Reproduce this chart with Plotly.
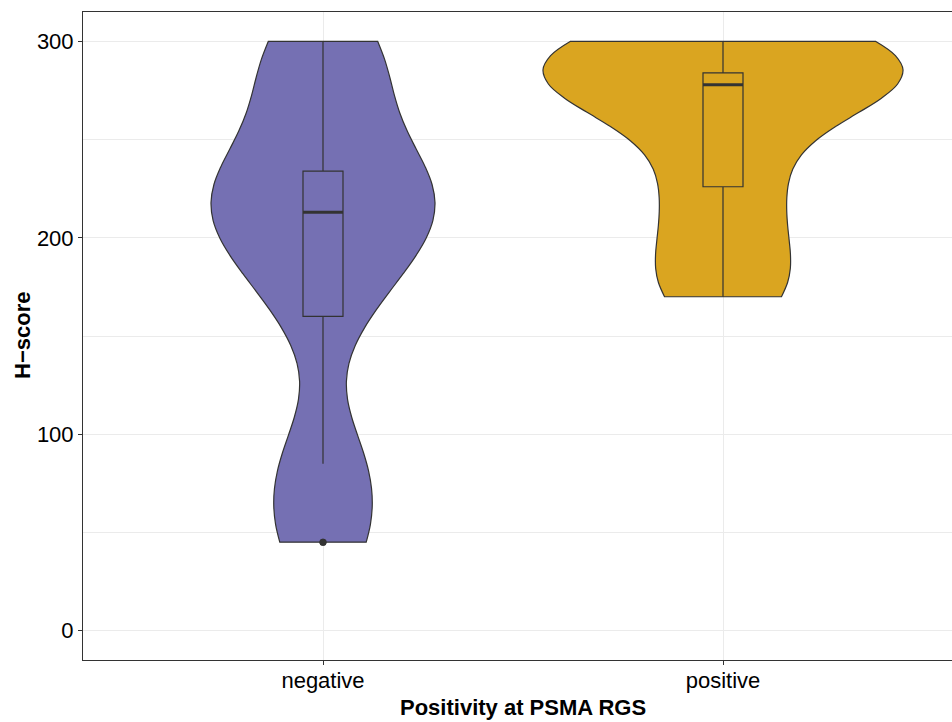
import numpy as np
import plotly.graph_objects as go

# H-scores per PSMA RGS result
groups = ["negative", "positive"]
hscore_negative = [45, 45, 85, 85, 160, 180, 192, 203, 213, 220, 226, 232, 234, 265, 282, 300, 300]
hscore_positive = [170, 172, 186, 204, 226, 232, 262, 272, 278, 280, 282, 283, 284, 298, 300, 300, 300]
y_major = [0, 100, 200, 300]
y_minor = [50, 150, 250]

fill_colors = ["#7570B3", "#DAA520"]
violin_widths = [0.56, 0.9]
edge = "#333333"
font_family = "Liberation Sans, Arial, Helvetica, sans-serif"


def bw_nrd0(values):
    v = np.asarray(values, dtype=float)
    q75, q25 = np.percentile(v, [75, 25])
    return 0.9 * min(v.std(ddof=1), (q75 - q25) / 1.34) * len(v) ** -0.2


fig = go.Figure()
samples = [hscore_negative, hscore_positive]

for i, (vals, col, w) in enumerate(zip(samples, fill_colors, violin_widths)):
    fig.add_trace(go.Violin(
        y=vals, x0=i, width=w, spanmode="hard", bandwidth=bw_nrd0(vals),
        scalemode="width", scalegroup=groups[i], side="both",
        fillcolor=col, line=dict(color=edge, width=1.2), opacity=1,
        points=False, box_visible=False, meanline_visible=False,
        hoverinfo="skip", name=groups[i],
    ))

for i, (vals, col) in enumerate(zip(samples, fill_colors)):
    fig.add_trace(go.Box(
        y=vals, x0=i, width=0.1, quartilemethod="inclusive",
        fillcolor=col, line=dict(color=edge, width=1.2), whiskerwidth=0,
        boxpoints="outliers", jitter=0, pointpos=0,
        marker=dict(color=edge, size=7, line=dict(width=0)),
        hoverinfo="skip", name=groups[i],
    ))

# thicker median bar, as in ggplot's boxplot
for i, vals in enumerate(samples):
    med = float(np.median(vals))
    fig.add_trace(go.Scatter(
        x=[i - 0.05, i + 0.05], y=[med, med], mode="lines",
        line=dict(color=edge, width=3), hoverinfo="skip", showlegend=False,
    ))

fig.update_layout(
    width=952, height=722,
    margin=dict(l=83, r=0, t=12, b=62),
    plot_bgcolor="white", paper_bgcolor="white",
    showlegend=False, violinmode="overlay", boxmode="overlay",
    font=dict(family=font_family, size=22, color="black"),
    xaxis=dict(
        type="linear", range=[-0.6, 1.5725],
        tickvals=[0, 1], ticktext=groups,
        showgrid=True, gridcolor="#EBEBEB", gridwidth=1,
        showline=True, linecolor=edge, linewidth=1, mirror=True,
        ticks="outside", ticklen=4, tickcolor=edge, tickwidth=1,
        ticklabelstandoff=-3,
        zeroline=False, tickfont=dict(size=22, color="black"),
    ),
    yaxis=dict(
        range=[-15, 315], tickvals=y_major,
        showgrid=True, gridcolor="#EBEBEB", gridwidth=1,
        minor=dict(tickvals=y_minor, showgrid=True, gridcolor="#EBEBEB", gridwidth=0.6),
        showline=True, linecolor=edge, linewidth=1,
        ticks="outside", ticklen=4, tickcolor=edge, tickwidth=1,
        zeroline=False, tickfont=dict(size=22, color="black"),
    ),
    annotations=[
        dict(text="<b>Positivity at PSMA RGS</b>", xref="x", x=0.5, yref="paper", y=0,
             yshift=-47, xanchor="center", yanchor="middle", showarrow=False,
             font=dict(size=22, color="black")),
        dict(text="<b>H\u2212score</b>", xref="paper", x=0, xshift=-61, yref="paper", y=0.5,
             xanchor="center", yanchor="middle", textangle=-90, showarrow=False,
             font=dict(size=22, color="black")),
    ],
)

fig.write_html("out.html")
